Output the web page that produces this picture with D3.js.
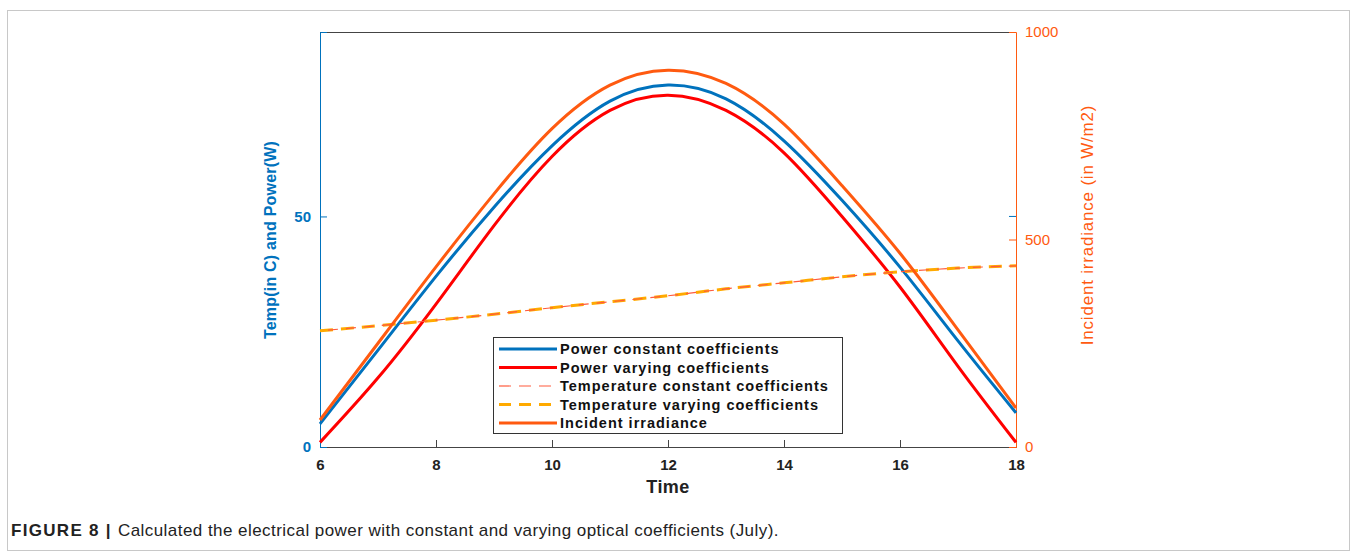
<!DOCTYPE html>
<html>
<head>
<meta charset="utf-8">
<script src="https://cdn.jsdelivr.net/npm/d3@7"></script>
<style>
  body { margin: 0; background: #fff; }
  svg text { font-family: "Liberation Sans", Arial, sans-serif; }
</style>
</head>
<body>
<div id="chart"></div>
<script>
// data (hourly)
var hours = [6, 7, 8, 9, 10, 11, 12, 13, 14, 15, 16, 17, 18];
var powerConstant = [5, 21, 37, 52, 65.3, 75, 78.5, 75.5, 66.4, 53.5, 39, 23, 7.4];
var powerVarying = [1, 15, 31, 48, 63, 73, 76.3, 73, 63.8, 50, 34.7, 17.5, 1];
var tempConstant = [25.2, 26.3, 27.5, 28.8, 30.2, 31.5, 32.8, 34.3, 35.6, 36.9, 38, 38.8, 39.3];
var tempVarying = [25.2, 26.3, 27.5, 28.8, 30.2, 31.5, 32.8, 34.3, 35.6, 36.9, 38, 38.8, 39.3];
var irradiance = [65, 250, 434, 610, 767, 872, 908, 876, 778, 630, 467, 282, 94];

var xTicks = [6, 8, 10, 12, 14, 16, 18];
var leftTicks = [0, 50];
var rightTicks = [0, 500, 1000];

var legendNames = ["Power constant coefficients", "Power varying coefficients",
  "Temperature constant coefficients", "Temperature varying coefficients", "Incident irradiance"];

var blue = "#0072BD", red = "#FF0000", orange = "#FF5A10", yellow = "#FFAA00", thinOrange = "#FF5A3C";

var W = 1356, H = 554;
var plot = {left: 320, right: 1016, top: 32, bottom: 447};

var svg = d3.select("#chart").append("svg")
  .attr("width", W)
  .attr("height", H);

// figure frame
svg.append("rect")
  .attr("x", 7.5).attr("y", 10.5)
  .attr("width", 1342).attr("height", 540)
  .attr("fill", "none")
  .attr("stroke", "#c8c8c8");

var x = d3.scaleLinear().domain([6, 18]).range([plot.left, plot.right]);
var yL = d3.scaleLinear().domain([0, 90]).range([plot.bottom, plot.top]);
var yR = d3.scaleLinear().domain([0, 1000]).range([plot.bottom, plot.top]);

// top border
svg.append("line")
  .attr("x1", plot.left).attr("x2", plot.right)
  .attr("y1", plot.top + 0.5).attr("y2", plot.top + 0.5)
  .attr("stroke", "#444").attr("stroke-width", 1);

// x axis
var xAxis = d3.axisBottom(x).tickValues(xTicks).tickSize(-7).tickPadding(12);
var gx = svg.append("g")
  .attr("transform", "translate(0," + plot.bottom + ")")
  .call(xAxis);
gx.select(".domain").attr("stroke", "#444");
gx.selectAll(".tick line").attr("stroke", "#444");
gx.selectAll(".tick text")
  .attr("fill", "#222")
  .attr("font-size", 15)
  .attr("font-weight", "bold");

svg.append("text")
  .attr("x", 668)
  .attr("y", 493)
  .attr("text-anchor", "middle")
  .attr("font-size", 18)
  .attr("font-weight", "bold")
  .attr("letter-spacing", 0.4)
  .attr("fill", "#222")
  .text("Time");

// left axis
var yAxisL = d3.axisLeft(yL).tickValues(leftTicks).tickSize(-7).tickPadding(9);
var gl = svg.append("g")
  .attr("transform", "translate(" + plot.left + ",0)")
  .call(yAxisL);
gl.select(".domain").attr("stroke", blue);
gl.selectAll(".tick line").attr("stroke", blue);
gl.selectAll(".tick text")
  .attr("fill", blue)
  .attr("font-size", 15)
  .attr("font-weight", "bold");

svg.append("text")
  .attr("transform", "translate(276,240) rotate(-90)")
  .attr("text-anchor", "middle")
  .attr("font-size", 16)
  .attr("font-weight", "bold")
  .attr("letter-spacing", 0.2)
  .attr("fill", blue)
  .text("Temp(in C) and Power(W)");

// right axis
var yAxisR = d3.axisRight(yR).tickValues(rightTicks).tickSize(-7).tickPadding(9)
  .tickFormat(d3.format("d"));
var gr = svg.append("g")
  .attr("transform", "translate(" + plot.right + ",0)")
  .call(yAxisR);
gr.select(".domain").attr("stroke", orange);
gr.selectAll(".tick line").attr("stroke", orange);
gr.selectAll(".tick text")
  .attr("fill", orange)
  .attr("font-size", 15);

// mirrored blue tick at the right edge
svg.append("line")
  .attr("x1", plot.right - 7).attr("x2", plot.right)
  .attr("y1", yL(50)).attr("y2", yL(50))
  .attr("stroke", blue);

svg.append("text")
  .attr("transform", "translate(1093,225) rotate(-90)")
  .attr("text-anchor", "middle")
  .attr("font-size", 17)
  .attr("letter-spacing", 0.8)
  .attr("fill", orange)
  .text("Incident irradiance (in W/m2)");

// lines
var lineL = d3.line()
  .curve(d3.curveNatural)
  .x(function(d, i) { return x(hours[i]); })
  .y(function(d) { return yL(d); });

var lineR = d3.line()
  .curve(d3.curveNatural)
  .x(function(d, i) { return x(hours[i]); })
  .y(function(d) { return yR(d); });

svg.append("path").datum(powerConstant)
  .attr("d", lineL).attr("fill", "none")
  .attr("stroke", blue).attr("stroke-width", 3);

svg.append("path").datum(powerVarying)
  .attr("d", lineL).attr("fill", "none")
  .attr("stroke", red).attr("stroke-width", 3);

svg.append("path").datum(tempVarying)
  .attr("d", lineL).attr("fill", "none")
  .attr("stroke", yellow).attr("stroke-width", 3)
  .attr("stroke-dasharray", "13,8");

svg.append("path").datum(tempConstant)
  .attr("d", lineL).attr("fill", "none")
  .attr("stroke", thinOrange).attr("stroke-width", 1.2)
  .attr("stroke-dasharray", "10,8")
  .attr("stroke-dashoffset", 10);

svg.append("path").datum(irradiance)
  .attr("d", lineR).attr("fill", "none")
  .attr("stroke", orange).attr("stroke-width", 3);

// legend
var legend = svg.append("g").attr("transform", "translate(493,337)");
legend.append("rect")
  .attr("x", 0.5).attr("y", 0.5)
  .attr("width", 349).attr("height", 96)
  .attr("fill", "#fff")
  .attr("stroke", "#333");

var legendStyles = [
  {color: blue, width: 3, dash: null},
  {color: red, width: 3, dash: null},
  {color: thinOrange, width: 1.2, dash: "12,8"},
  {color: yellow, width: 3, dash: "12,8"},
  {color: orange, width: 3, dash: null}
];

legendNames.forEach(function(name, i) {
  var yy = 12 + i * 18.5;
  var s = legendStyles[i];
  legend.append("line")
    .attr("x1", 6).attr("x2", 64)
    .attr("y1", yy).attr("y2", yy)
    .attr("stroke", s.color)
    .attr("stroke-width", s.width)
    .attr("stroke-dasharray", s.dash);
  legend.append("text")
    .attr("x", 67).attr("y", yy + 5)
    .attr("font-size", 14.5)
    .attr("font-weight", "bold")
    .attr("letter-spacing", 1)
    .attr("fill", "#111")
    .text(name);
});

// caption
var cap = svg.append("text")
  .attr("x", 11).attr("y", 536)
  .attr("font-size", 17)
  .attr("fill", "#222");
cap.append("tspan").attr("font-weight", "bold").attr("letter-spacing", 1.3).text("FIGURE 8 | ");
cap.append("tspan").attr("letter-spacing", 0.45).text("Calculated the electrical power with constant and varying optical coefficients (July).");
</script>
</body>
</html>
